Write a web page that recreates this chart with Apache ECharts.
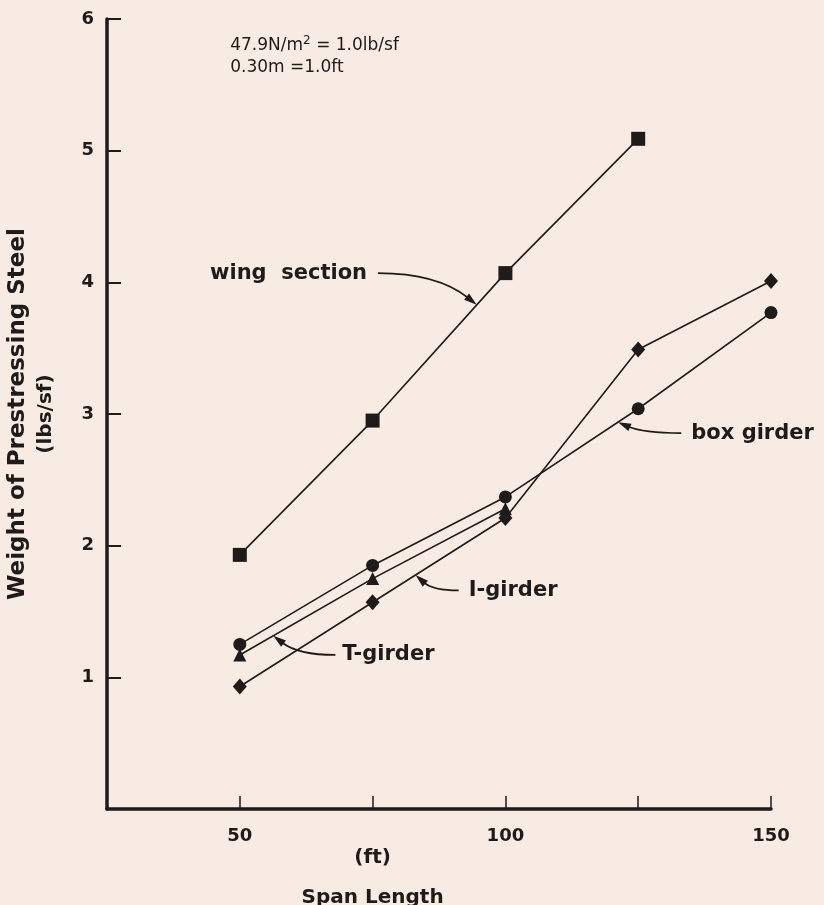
<!DOCTYPE html>
<html>
<head>
<meta charset="utf-8">
<script src="https://cdn.jsdelivr.net/npm/echarts@6/dist/echarts.min.js"></script>
<style>
html,body{margin:0;padding:0;background:#f7ebe3;}
#chart{width:824px;height:905px;}
</style>
</head>
<body>
<div id="chart"></div>
<script>
// ---- data ----
var spans = [50, 75, 100, 125, 150];
var wingSection = [1.93, 2.95, 4.07, 5.09];
var boxGirder = [1.25, 1.85, 2.37, 3.04, 3.77];
var tGirder = [1.17, 1.75, 2.28];
var iGirder = [0.93, 1.57, 2.21, 3.49, 4.01];
var yTicks = [1, 2, 3, 4, 5, 6];
var xTicks = [50, 75, 100, 125, 150];
var xTickLabels = [50, 100, 150];

// annotation anchors in data units: text start, arrow tail, arrow tip
var annotations = [
  {text: 'wing  section', at: [44.4, 4.07], tail: [76.0, 4.07], tip: [94.6, 3.83]},
  {text: 'I-girder', at: [93.1, 1.66], tail: [91.2, 1.66], tip: [83.1, 1.777]},
  {text: 'T-girder', at: [69.3, 1.17], tail: [68.0, 1.17], tip: [56.3, 1.316]},
  {text: 'box girder', at: [135.0, 2.855], tail: [133.1, 2.855], tip: [121.2, 2.938]}
];
var noteLines = [
  {rich: '47.9N/m{sup|2} = 1.0lb/sf', at: [48.2, 5.80]},
  {rich: '0.30m =1.0ft', at: [48.2, 5.63]}
];
var xUnit = '(ft)';
var xTitle = 'Span Length';
var yTitleMain = 'Weight of Prestressing Steel';
var yTitleUnit = '(lbs/sf)';

function pairs(vals) {
  return vals.map(function (v, i) { return [spans[i], v]; });
}

var INK = '#1f1b1a';
var FONT = 'DejaVu Sans';

var chart = echarts.init(document.getElementById('chart'));
var option = {
  backgroundColor: '#f7ebe3',
  animation: false,
  grid: {left: 107, right: 53, top: 19, bottom: 96, containLabel: false, outerBoundsMode: 'none'},
  xAxis: {
    type: 'value', min: 25, max: 150, interval: 25,
    axisLine: {show: true, onZero: false, lineStyle: {color: INK, width: 3.5}},
    axisTick: {show: true, inside: true, length: 13, lineStyle: {color: INK, width: 1.5},
      customValues: xTicks},
    axisLabel: {
      margin: 18, color: INK, fontFamily: FONT, fontSize: 18, fontWeight: 'bold',
      customValues: xTickLabels,
      formatter: function (v) { return xTickLabels.indexOf(v) >= 0 ? String(v) : ''; }
    },
    splitLine: {show: false}
  },
  yAxis: {
    type: 'value', min: 0, max: 6, interval: 1,
    name: '{a|' + yTitleMain + '}\n{b|' + yTitleUnit + '}',
    nameLocation: 'middle', nameRotate: 90, nameGap: 48,
    nameTextStyle: {color: INK, fontFamily: FONT, fontWeight: 'bold', lineHeight: 27,
      rich: {
        a: {fontSize: 23, fontWeight: 'bold', fontFamily: FONT, color: INK, lineHeight: 27},
        b: {fontSize: 20, fontWeight: 'bold', fontFamily: FONT, color: INK, lineHeight: 27}
      }},
    axisLine: {show: true, lineStyle: {color: INK, width: 3.5}},
    axisTick: {show: true, inside: true, length: 14, lineStyle: {color: INK, width: 2},
      customValues: yTicks},
    axisLabel: {
      margin: 13, color: INK, fontFamily: FONT, fontSize: 18, fontWeight: 'bold',
      customValues: yTicks,
      formatter: function (v) { return yTicks.indexOf(v) >= 0 ? String(v) : ''; }
    },
    splitLine: {show: false}
  },
  series: [
    {name: 'wing section', type: 'line', data: pairs(wingSection), symbol: 'rect', symbolSize: 14,
      lineStyle: {color: INK, width: 1.6}, itemStyle: {color: INK}},
    {name: 'box girder', type: 'line', data: pairs(boxGirder), symbol: 'circle', symbolSize: 13,
      lineStyle: {color: INK, width: 1.6}, itemStyle: {color: INK}},
    {name: 'T-girder', type: 'line', data: pairs(tGirder), symbol: 'triangle', symbolSize: 13,
      lineStyle: {color: INK, width: 1.6}, itemStyle: {color: INK}},
    {name: 'I-girder', type: 'line', data: pairs(iGirder), symbol: 'diamond', symbolSize: [14, 16],
      lineStyle: {color: INK, width: 1.6}, itemStyle: {color: INK}}
  ]
};
chart.setOption(option);

function px(p) { return chart.convertToPixel({gridIndex: 0}, p); }

var graphics = [];
annotations.forEach(function (a) {
  var t = px(a.at), s = px(a.tail), e = px(a.tip);
  graphics.push({
    type: 'text', x: t[0], y: t[1],
    style: {text: a.text, fill: INK, font: 'bold 21px "' + FONT + '"',
      textAlign: 'left', textVerticalAlign: 'middle'}
  });
  var cp = [s[0] + 0.6 * (e[0] - s[0]), s[1]];
  var dx = e[0] - cp[0], dy = e[1] - cp[1];
  var len = Math.sqrt(dx * dx + dy * dy);
  var ux = dx / len, uy = dy / len;
  var L = 13, W = 4;
  var bx = e[0] - ux * L, by = e[1] - uy * L;
  graphics.push({
    type: 'bezierCurve',
    shape: {x1: s[0], y1: s[1], cpx1: cp[0], cpy1: cp[1], x2: bx + ux * 2, y2: by + uy * 2},
    style: {stroke: INK, lineWidth: 1.8, fill: null}
  });
  graphics.push({
    type: 'polygon',
    shape: {points: [[e[0], e[1]], [bx - uy * W, by + ux * W], [bx + uy * W, by - ux * W]]},
    style: {fill: INK}
  });
});
noteLines.forEach(function (n) {
  var p = px(n.at);
  graphics.push({
    type: 'text', x: p[0], y: p[1],
    style: {text: n.rich, fill: INK, font: '17px "' + FONT + '"', textVerticalAlign: 'middle',
      rich: {sup: {fontSize: 12, verticalAlign: 'top', padding: [0, 0, 8, 0], fill: INK, fontFamily: FONT}}}
  });
});
var mid = px([75, 0]);
graphics.push({type: 'text', x: mid[0], y: mid[1] + 49,
  style: {text: xUnit, fill: INK, font: 'bold 20px "' + FONT + '"', textAlign: 'center', textVerticalAlign: 'middle'}});
graphics.push({type: 'text', x: mid[0], y: mid[1] + 89,
  style: {text: xTitle, fill: INK, font: 'bold 20px "' + FONT + '"', textAlign: 'center', textVerticalAlign: 'middle'}});
chart.setOption({graphic: graphics});
</script>
</body>
</html>
